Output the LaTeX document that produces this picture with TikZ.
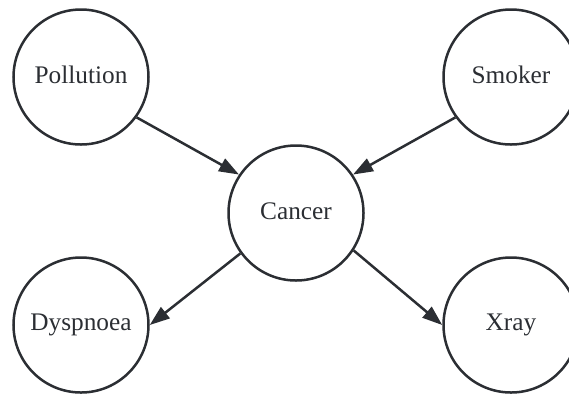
\documentclass[tikz,border=0pt]{standalone}
\usepackage{fontspec}
\setmainfont{Liberation Serif}
\usetikzlibrary{arrows.meta}
\definecolor{ink}{RGB}{43,46,51}
\newcommand{\liftlabel}[1]{\raisebox{4.5bp}{#1}}
\tikzset{
  var/.style={circle, draw=ink, line width=2.5bp, minimum size=135bp, inner sep=0pt,
    text=ink, font=\fontsize{25.3bp}{28bp}\selectfont},
  edge/.style={draw=ink, line width=2.5bp, -{Triangle[length=20bp,width=14bp]}}
}
\begin{document}
\begin{tikzpicture}[x=1bp,y=-1bp]
  \useasboundingbox (0,0) rectangle (569,394);
  \node[var] (poll) at (81,77) {\liftlabel{Pollution}};
  \node[var] (smok) at (511,77) {\liftlabel{Smoker}};
  \node[var] (canc) at (296,213) {\liftlabel{Cancer}};
  \node[var] (dysp) at (81,325) {\liftlabel{Dyspnoea}};
  \node[var] (xray) at (511,325) {\liftlabel{Xray}};
  \draw[edge] (poll.-36) -- (canc.146);
  \draw[edge] (smok.216) -- (canc.34);
  \draw[edge] (canc.216) -- (dysp.0);
  \draw[edge] (canc.-33) -- (xray.180);
\end{tikzpicture}
\end{document}
